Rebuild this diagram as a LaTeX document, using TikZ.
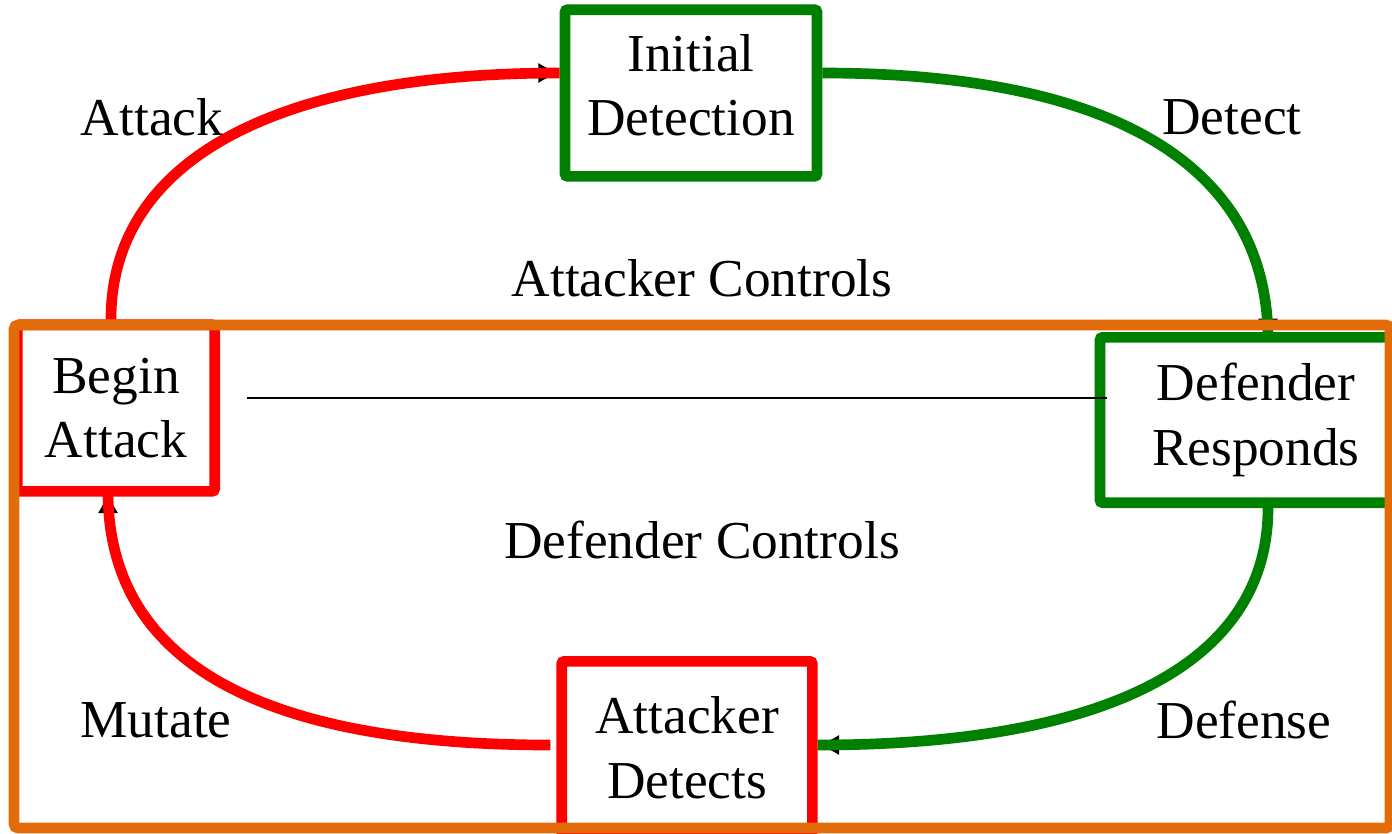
\documentclass[tikz,border=0pt]{standalone}
\usepackage{fontspec}
\setmainfont{Liberation Serif}
\usetikzlibrary{arrows.meta,backgrounds}
\definecolor{attackred}{RGB}{255,0,0}
\definecolor{defendgreen}{RGB}{0,128,0}
\definecolor{zoneorange}{RGB}{227,108,10}
\begin{document}
\begin{tikzpicture}[x=0.75pt, y=-0.75pt,
		box/.style={draw, line width=8pt, fill=white, rounded corners=2pt, align=center, inner sep=0pt, font=\fontsize{40}{48.5}\selectfont},
		lbl/.style={font=\fontsize{40}{48}\selectfont},
		loop/.style={line width=8pt, preaction={draw=black, line width=1pt, -{Latex[length=16pt,width=15pt]}}}]
		\useasboundingbox (0,0) rectangle (1392,833);
		% the four stages
		\node[box, draw=defendgreen, minimum width=189pt, minimum height=125pt, text depth=12pt] (id) at (691,93) {Initial\\Detection};
		\node[box, draw=attackred, minimum width=148pt, minimum height=125pt] (ba) at (116,408) {Begin\\Attack};
		\node[box, draw=defendgreen, minimum width=234pt, minimum height=124pt] (dr) at (1256,420) {Defender\\Responds};
		\node[box, draw=attackred, minimum width=188pt, minimum height=130pt] (ad) at (687,748) {Attacker\\Detects};
		% the cycle
		\begin{scope}[on background layer]
			\draw [loop, attackred] ([shift={(-5,0)}]ba.north) .. controls +(0,-160) and +(-282,0) .. ([shift={(0,-20)}]id.west);
			\draw [loop, defendgreen] ([shift={(0,-20)}]id.east) .. controls +(290,0) and +(0,-175) .. ([shift={(12,8)}]dr.north);
			\draw [loop, defendgreen] ([shift={(12,0)}]dr.south) .. controls +(0,155) and +(290,0) .. ([shift={(0,-3)}]ad.east);
			\draw [loop, attackred] ([shift={(-6,-3)}]ad.west) .. controls +(-300,0) and +(0,165) .. ([shift={(-8,-5)}]ba.south);
		\end{scope}
		\draw [line width=8pt, zoneorange, rounded corners=3pt] (14,325) rectangle (1390,828);
		\draw [line width=1pt] ([shift={(27,-10)}]ba.east) -- ([shift={(12,-22)}]dr.west);
		% labels
		\node[lbl] (attack) at (152,117) {Attack};
		\node[lbl] (detect) at (1232,117) {Detect};
		\node[lbl] (actrl) at (702,278) {Attacker Controls};
		\node[lbl] (dctrl) at (702,540) {Defender Controls};
		\node[lbl] (mutate) at (156,720) {Mutate};
		\node[lbl] (defense) at (1244,720) {Defense};
\end{tikzpicture}
\end{document}
